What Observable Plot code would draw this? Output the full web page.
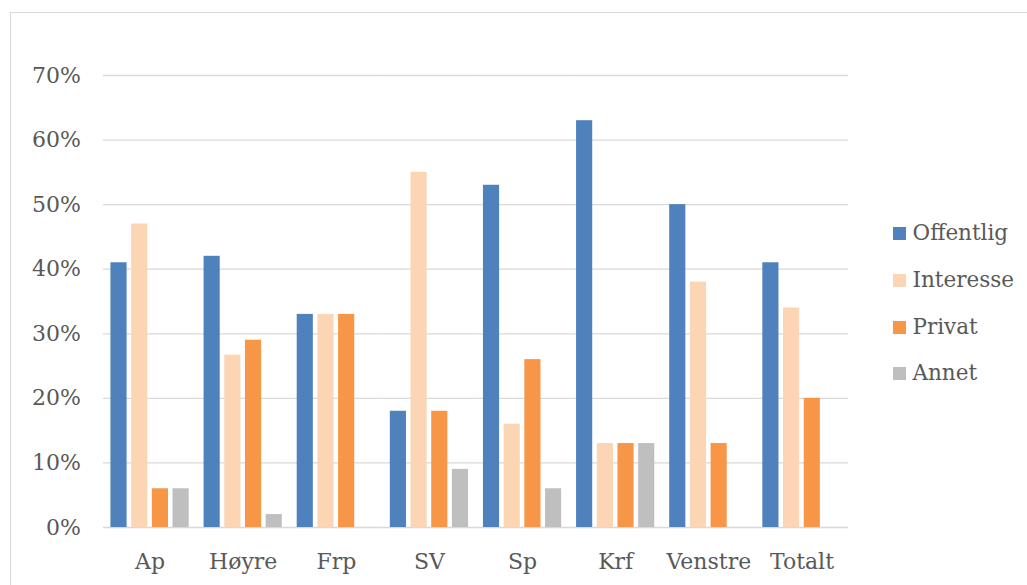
<!DOCTYPE html>
<html><head><meta charset="utf-8">
<script src="https://cdn.jsdelivr.net/npm/d3@7"></script>
<script src="https://cdn.jsdelivr.net/npm/@observablehq/plot@0.6"></script>
<style>
body{margin:0;background:#fff;}
#wrap{position:relative;width:1027px;height:585px;overflow:hidden;font-family:"DejaVu Serif",serif;color:#595959;}
#frame{position:absolute;left:10px;top:12px;width:1040px;height:620px;border:1px solid #d9d9d9;box-sizing:border-box;}
#chart{position:absolute;left:0;top:0;}
#legend{position:absolute;left:893px;top:0;}
.item{position:absolute;left:0;white-space:nowrap;font-size:21.5px;line-height:26px;height:26px;}
.sw{position:absolute;left:0;top:6.5px;width:13px;height:13px;}
.lab{position:absolute;left:19.5px;top:0;}
</style>
</head><body>
<div id="wrap"><div id="frame"></div><div id="chart"></div><div id="legend"></div></div>
<script>
const parties = ["Ap","Høyre","Frp","SV","Sp","Krf","Venstre","Totalt"];
const series = ["Offentlig","Interesse","Privat","Annet"];
const offentlig = [41,42,33,18,53,63,50,41];
const interesse = [47,26.7,33,55,16,13,38,34];
const privat = [6,29,33,18,26,13,13,20];
const annet = [6,2,0,9,6,13,0,0];
const colors = ["#4f81bd","#fcd5b5","#f79646","#bfbfbf"];
const yTicks = [0,10,20,30,40,50,60,70];

const values = [offentlig, interesse, privat, annet];
const data = [];
parties.forEach((p,i)=>series.forEach((s,j)=>data.push({party:p, series:s, value:values[j][i]})));

const chart = Plot.plot({
  width:1027, height:585,
  marginLeft:103, marginRight:179, marginTop:75, marginBottom:58,
  style:{fontFamily:"DejaVu Serif", fontSize:"22px", color:"#595959", background:"transparent"},
  fx:{domain:parties, paddingInner:0.16, paddingOuter:0.08, round:false, label:null, axis:"bottom", tickSize:0, tickPadding:26},
  x:{domain:series, paddingInner:0.22, paddingOuter:0, round:false, axis:null},
  y:{domain:[0,70], ticks:yTicks, tickFormat:d=>d+"%", tickSize:0, tickPadding:30, label:null},
  color:{domain:series, range:colors},
  marks:[
    Plot.ruleY(yTicks, {stroke:"#d9d9d9", strokeWidth:1.3, insetLeft:-7.5, insetRight:-7.5}),
    Plot.barY(data.filter(d=>d.value>0), {fx:"party", x:"series", y:"value", fill:"series"})
  ]
});
document.getElementById("chart").appendChild(chart);

const legend = document.getElementById("legend");
const centers = [233, 280, 327, 373];
series.forEach((s,i)=>{
  const it = document.createElement("div");
  it.className = "item";
  it.style.top = (centers[i]-13)+"px";
  it.innerHTML = `<div class="sw" style="background:${colors[i]}"></div><div class="lab">${s}</div>`;
  legend.appendChild(it);
});
</script>
</body></html>
